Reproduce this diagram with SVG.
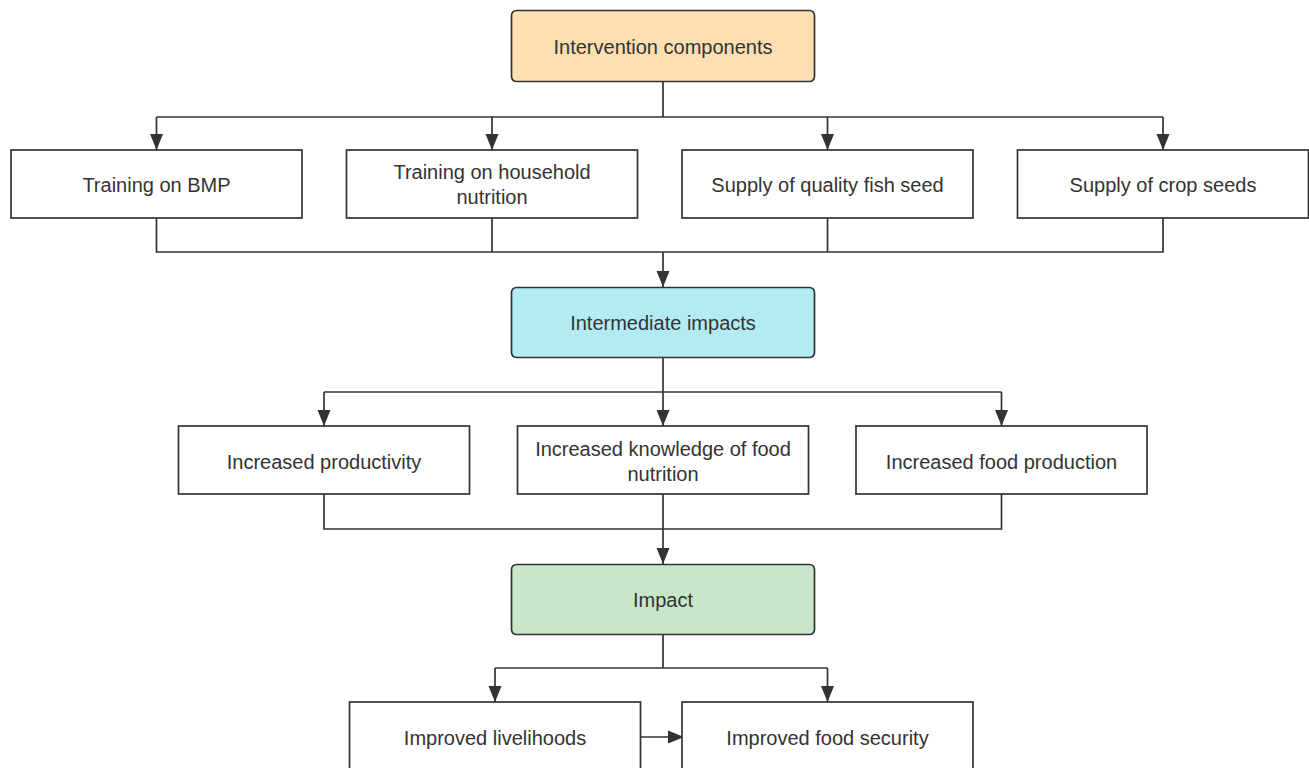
<svg xmlns="http://www.w3.org/2000/svg" width="1309" height="768" viewBox="0 0 1309 768">
<style>
.box{fill:#fff;stroke:#333;stroke-width:1.7}
.key{stroke:#333;stroke-width:1.7}
.t{font-family:"Liberation Sans",Arial,sans-serif;font-size:20px;fill:#333;text-anchor:middle;dominant-baseline:central}
.ln{fill:none;stroke:#333;stroke-width:1.7}
</style>
<defs>
<marker id="ah" markerUnits="userSpaceOnUse" markerWidth="18" markerHeight="16" viewBox="0 0 18 16" refX="17" refY="8" orient="auto">
<path d="M1,1.5 L17,8 L1,14.5 Z" fill="#333"/>
</marker>
</defs>
<rect width="1309" height="768" fill="#fff"/>
<g id="connectors">
<path class="ln" d="M663,81 V117"/>
<path class="ln" d="M156.5,117 H1163"/>
<path class="ln" d="M156.5,117 V150" marker-end="url(#ah)"/>
<path class="ln" d="M492,117 V150" marker-end="url(#ah)"/>
<path class="ln" d="M827.5,117 V150" marker-end="url(#ah)"/>
<path class="ln" d="M1163,117 V150" marker-end="url(#ah)"/>
<path class="ln" d="M156.5,218 V252 H1163 V218"/>
<path class="ln" d="M492,218 V252"/>
<path class="ln" d="M827.5,218 V252"/>
<path class="ln" d="M663,252 V287" marker-end="url(#ah)"/>
<path class="ln" d="M663,357 V392"/>
<path class="ln" d="M324,392 H1001.5"/>
<path class="ln" d="M324,392 V426" marker-end="url(#ah)"/>
<path class="ln" d="M663,392 V426" marker-end="url(#ah)"/>
<path class="ln" d="M1001.5,392 V426" marker-end="url(#ah)"/>
<path class="ln" d="M324,494 V529 H1001.5 V494"/>
<path class="ln" d="M663,494 V564" marker-end="url(#ah)"/>
<path class="ln" d="M663,634 V668"/>
<path class="ln" d="M495,668 H827.5"/>
<path class="ln" d="M495,668 V702" marker-end="url(#ah)"/>
<path class="ln" d="M827.5,668 V702" marker-end="url(#ah)"/>
<path class="ln" d="M641,737 H684" marker-end="url(#ah)"/>
</g>
<g id="n-intervention">
<rect class="key" x="511.5" y="10.5" width="303" height="71" rx="5" fill="#fddfb1"/>
<text class="t" x="663" y="47">Intervention components</text>
</g>
<g id="n-bmp">
<rect class="box" x="11" y="150" width="291" height="68"/>
<text class="t" x="156.5" y="185">Training on BMP</text>
</g>
<g id="n-nutrition">
<rect class="box" x="346.5" y="150" width="291" height="68"/>
<text class="t" x="492" y="172">Training on household</text>
<text class="t" x="492" y="197">nutrition</text>
</g>
<g id="n-fishseed">
<rect class="box" x="682" y="150" width="291" height="68"/>
<text class="t" x="827.5" y="185">Supply of quality fish seed</text>
</g>
<g id="n-cropseeds">
<rect class="box" x="1017.5" y="150" width="291" height="68"/>
<text class="t" x="1163" y="185">Supply of crop seeds</text>
</g>
<g id="n-intermediate">
<rect class="key" x="511.5" y="287.5" width="303" height="70" rx="5" fill="#b2ebf2"/>
<text class="t" x="663" y="323">Intermediate impacts</text>
</g>
<g id="n-productivity">
<rect class="box" x="178.5" y="426" width="291" height="68"/>
<text class="t" x="324" y="462">Increased productivity</text>
</g>
<g id="n-knowledge">
<rect class="box" x="517.5" y="426" width="291" height="68"/>
<text class="t" x="663" y="449">Increased knowledge of food</text>
<text class="t" x="663" y="474">nutrition</text>
</g>
<g id="n-foodprod">
<rect class="box" x="856" y="426" width="291" height="68"/>
<text class="t" x="1001.5" y="462">Increased food production</text>
</g>
<g id="n-impact">
<rect class="key" x="511.5" y="564.5" width="303" height="70" rx="5" fill="#c8e6c9"/>
<text class="t" x="663" y="600">Impact</text>
</g>
<g id="n-livelihoods">
<rect class="box" x="349.5" y="702" width="291" height="68"/>
<text class="t" x="495" y="738">Improved livelihoods</text>
</g>
<g id="n-foodsecurity">
<rect class="box" x="682" y="702" width="291" height="68"/>
<text class="t" x="827.5" y="738">Improved food security</text>
</g>
</svg>
